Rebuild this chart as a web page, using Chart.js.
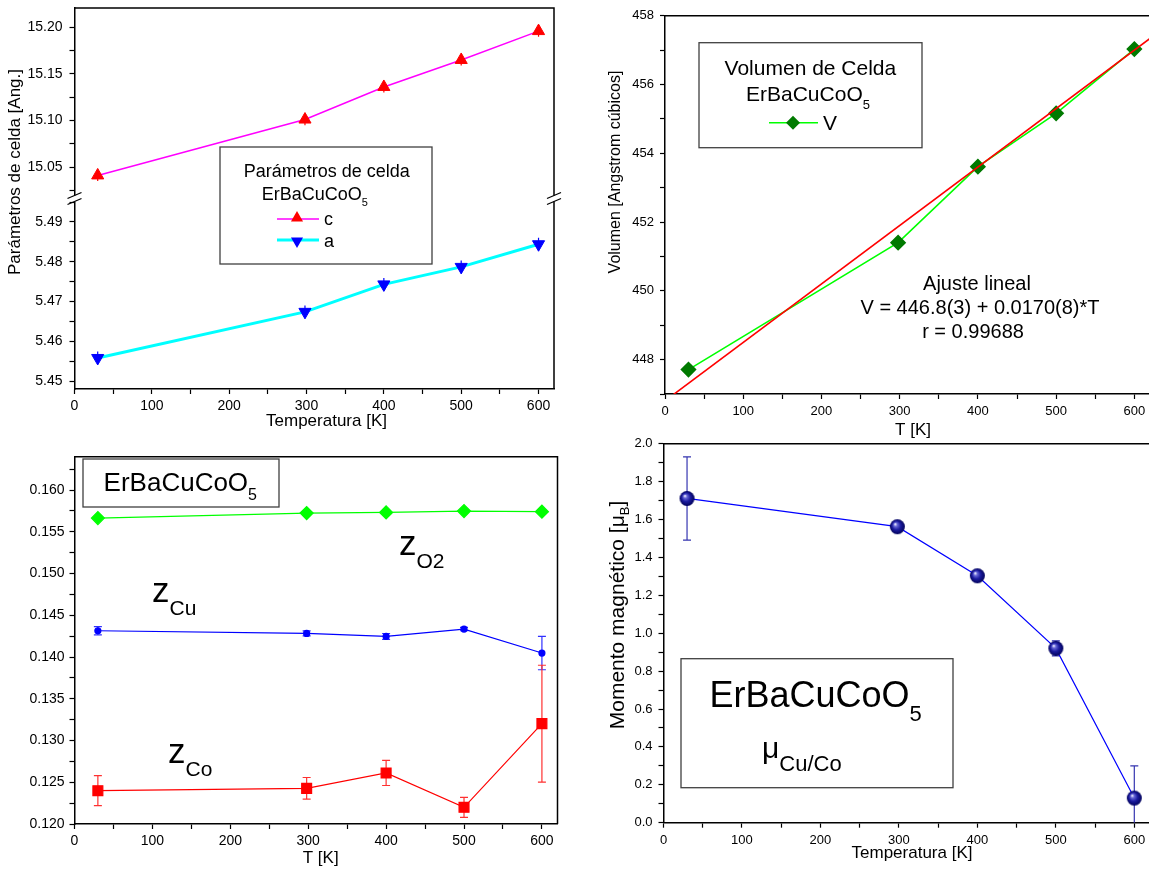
<!DOCTYPE html>
<html><head><meta charset="utf-8">
<script src="https://cdn.jsdelivr.net/npm/chart.js@4.4.1/dist/chart.umd.min.js"></script>
<style>
html,body{margin:0;padding:0;background:#fff;overflow:hidden;width:1149px;height:870px;position:relative;}
canvas{position:absolute;left:0;top:0;}
</style></head><body>
<canvas id="tl" width="1160" height="870"></canvas>
<canvas id="tr" width="1160" height="870"></canvas>
<canvas id="bl" width="1160" height="870"></canvas>
<canvas id="br" width="1160" height="870"></canvas>
<script>
// ---------- data ----------
const temps = [30, 298, 400, 500, 600];
const cParam = [15.041, 15.101, 15.136, 15.165, 15.196];
const cErr = [0.006, 0.006, 0.006, 0.006, 0.006];
const aParam = [5.4558, 5.4674, 5.4743, 5.4787, 5.4844];
const aErr = [0.0016, 0.0016, 0.0016, 0.0016, 0.0016];
const volume = [447.71, 451.40, 453.61, 455.16, 457.03];
const fitT = [0, 620];
const fitV = [446.8, 457.34];
const zO2 = [0.15665, 0.15725, 0.15733, 0.15749, 0.15741];
const zCu = [0.14315, 0.14283, 0.14247, 0.14335, 0.14048];
const zCuErr = [0.0005, 0.0003, 0.00035, 0.0002, 0.002];
const zCo = [0.12399, 0.12427, 0.12611, 0.12200, 0.13202];
const zCoErr = [0.0018, 0.0013, 0.0015, 0.0012, 0.007];
const moment = [1.711, 1.562, 1.303, 0.920, 0.130];
const momentErr = [0.22, 0, 0, 0.04, 0.17];

const FAM = '"Liberation Sans", Arial, Helvetica, sans-serif';
Chart.defaults.font.family = FAM;
Chart.defaults.color = '#000';
Chart.defaults.animation = false;
Chart.defaults.plugins.legend.display = false;
Chart.defaults.plugins.tooltip.enabled = false;

const fnt = s => s + 'px ' + FAM;
const pts = arr => arr.map((v, i) => ({x: temps[i], y: v}));

function xAxis(size, pad) {
  return { type: 'linear', position: 'bottom', min: 0, max: 620,
    ticks: { stepSize: 50, autoSkip: false, includeBounds: false, maxRotation: 0, padding: pad,
      font: {size: size}, color: '#000',
      callback: v => (Math.round(v) % 100 === 0 ? String(Math.round(v)) : '') },
    grid: { drawOnChartArea: false, drawTicks: true, tickLength: 5, tickColor: '#000', tickWidth: 1.2 },
    border: { display: true, color: '#000', width: 1.5 },
    afterFit: s => { s.height = 30; s.paddingLeft = 0; s.paddingRight = 0; } };
}
function yAxis(min, max, step, every, dec, size, pad, extra) {
  const m = Math.round(every / step);
  return Object.assign({ type: 'linear', position: 'left', min: min, max: max,
    ticks: { stepSize: step, autoSkip: false, includeBounds: false, padding: pad,
      font: {size: size}, color: '#000',
      callback: v => (Math.round(v / step) % m === 0 ? v.toFixed(dec) : '') },
    grid: { drawOnChartArea: false, drawTicks: true, tickLength: 5, tickColor: '#000', tickWidth: 1.2 },
    border: { display: true, color: '#000', width: 1.5 },
    afterFit: s => { s.width = 55; s.paddingTop = 0; s.paddingBottom = 0; } }, extra || {});
}

// helpers for drawing text
function richWidth(ctx, segs) { let w = 0; for (const s of segs) { ctx.font = fnt(s.size); w += ctx.measureText(s.t).width; } return w; }
function drawRich(ctx, x, y, segs, align) {
  const w = richWidth(ctx, segs);
  let cx = align === 'center' ? x - w / 2 : (align === 'right' ? x - w : x);
  ctx.textAlign = 'left'; ctx.textBaseline = 'alphabetic'; ctx.fillStyle = '#000';
  for (const s of segs) { ctx.font = fnt(s.size); ctx.fillText(s.t, cx, y + (s.dy || 0)); cx += ctx.measureText(s.t).width; }
}
function drawRotated(ctx, cx, cy, segs, size) {
  ctx.save(); ctx.translate(cx, cy); ctx.rotate(-Math.PI / 2);
  drawRich(ctx, 0, size * 0.25, segs, 'center'); ctx.restore();
}
function box(ctx, x, y, w, h) { ctx.save(); ctx.strokeStyle = '#404040'; ctx.lineWidth = 1.3; ctx.strokeRect(x, y, w, h); ctx.restore(); }
function frame(chart) {
  const a = chart.chartArea, ctx = chart.ctx;
  ctx.save(); ctx.strokeStyle = '#000'; ctx.lineWidth = 1.5;
  ctx.beginPath(); ctx.moveTo(a.left, a.top); ctx.lineTo(a.right, a.top); ctx.lineTo(a.right, a.bottom); ctx.stroke();
  ctx.restore();
}
function brk(ctx, x, y) {
  ctx.save(); ctx.fillStyle = '#fff'; ctx.fillRect(x - 2, y - 3, 4, 6);
  ctx.strokeStyle = '#000'; ctx.lineWidth = 1.3;
  for (const dy of [-3, 3]) { ctx.beginPath(); ctx.moveTo(x - 7, y + dy + 3); ctx.lineTo(x + 7, y + dy - 3); ctx.stroke(); }
  ctx.restore();
}
function tri(ctx, x, y, r, down, color) {
  const s = down ? -1 : 1;
  ctx.save(); ctx.fillStyle = color; ctx.beginPath();
  ctx.moveTo(x, y - s * r); ctx.lineTo(x + r * 0.866, y + s * r * 0.5); ctx.lineTo(x - r * 0.866, y + s * r * 0.5);
  ctx.closePath(); ctx.fill(); ctx.restore();
}
function hline(ctx, x1, x2, y, color, w) { ctx.save(); ctx.strokeStyle = color; ctx.lineWidth = w; ctx.beginPath(); ctx.moveTo(x1, y); ctx.lineTo(x2, y); ctx.stroke(); ctx.restore(); }

const errorBars = {
  id: 'errorBars',
  beforeDatasetsDraw(chart) {
    const ctx = chart.ctx, a = chart.chartArea;
    ctx.save(); ctx.beginPath(); ctx.rect(a.left, a.top, a.right - a.left, a.bottom - a.top); ctx.clip();
    chart.data.datasets.forEach(ds => {
      if (!ds.errors) return;
      const xs = chart.scales.x, ys = chart.scales[ds.yAxisID || 'y'];
      ctx.strokeStyle = ds.errColor; ctx.lineWidth = 1.2;
      ds.data.forEach((p, i) => {
        const e = ds.errors[i]; if (!e) return;
        const px = xs.getPixelForValue(p.x), y1 = ys.getPixelForValue(p.y + e), y2 = ys.getPixelForValue(p.y - e);
        ctx.beginPath(); ctx.moveTo(px, y1); ctx.lineTo(px, y2);
        if (ds.cap) { ctx.moveTo(px - ds.cap, y1); ctx.lineTo(px + ds.cap, y1); ctx.moveTo(px - ds.cap, y2); ctx.lineTo(px + ds.cap, y2); }
        ctx.stroke();
      });
    });
    ctx.restore();
  }
};

// ---------- Top-left: cell parameters ----------
new Chart(document.getElementById('tl'), {
  type: 'line',
  data: { datasets: [
    { label: 'c', data: pts(cParam), yAxisID: 'yc', borderColor: '#FF00FF', borderWidth: 1.5,
      pointStyle: 'triangle', pointRadius: 7, pointBackgroundColor: '#FF0000', pointBorderColor: '#FF0000', pointBorderWidth: 1,
      errors: cErr, errColor: '#FF0000', cap: 0 },
    { label: 'a', data: pts(aParam), yAxisID: 'ya', borderColor: '#00FFFF', borderWidth: 3,
      pointStyle: 'triangle', rotation: 180, pointRadius: 7, pointBackgroundColor: '#0000FF', pointBorderColor: '#0000FF', pointBorderWidth: 1,
      errors: aErr, errColor: '#0000FF', cap: 0 }
  ]},
  options: {
    responsive: false,
    layout: { padding: { left: 19.5, right: 606, top: 7.3, bottom: 451 } },
    scales: {
      x: xAxis(14, 4),
      ya: yAxis(5.448, 5.4959, 0.005, 0.01, 2, 14, 7, { stack: 'p', stackWeight: 1 }),
      yc: yAxis(15.0162, 15.2208, 0.025, 0.05, 2, 14, 7, { stack: 'p', stackWeight: 1 })
    }
  },
  plugins: [errorBars, { id: 'tlx', afterDraw(chart) {
    const ctx = chart.ctx, a = chart.chartArea;
    frame(chart);
    const yb = chart.scales.yc.bottom;
    brk(ctx, a.left, yb); brk(ctx, a.right, yb);
    drawRotated(ctx, 16, 172, [{t: 'Parámetros de celda [Ang.]', size: 17}], 17);
    drawRich(ctx, 326.5, 426, [{t: 'Temperatura [K]', size: 17}], 'center');
    box(ctx, 220, 147, 212, 117);
    drawRich(ctx, 326.7, 176.5, [{t: 'Parámetros de celda', size: 18}], 'center');
    drawRich(ctx, 261.7, 200, [{t: 'ErBaCuCoO', size: 18}, {t: '5', size: 11, dy: 6}], 'left');
    hline(ctx, 277, 319, 219, '#FF00FF', 1.5); tri(ctx, 297, 218, 7, false, '#FF0000');
    drawRich(ctx, 324, 225, [{t: 'c', size: 18}], 'left');
    hline(ctx, 277, 319, 240, '#00FFFF', 3); tri(ctx, 297, 241, 7, true, '#0000FF');
    drawRich(ctx, 324, 247, [{t: 'a', size: 18}], 'left');
  }}]
});

// ---------- Top-right: cell volume ----------
new Chart(document.getElementById('tr'), {
  type: 'line',
  data: { datasets: [
    { label: 'fit', data: fitT.map((t, i) => ({x: t, y: fitV[i]})), borderColor: '#FF0000', borderWidth: 1.6, pointRadius: 0 },
    { label: 'V', data: pts(volume), borderColor: '#00FF00', borderWidth: 1.6,
      pointStyle: 'rectRot', pointRadius: 7, pointBackgroundColor: '#007A00', pointBorderColor: '#007A00' }
  ]},
  options: {
    responsive: false,
    layout: { padding: { left: 610, right: 10, top: 15.7, bottom: 446 } },
    scales: { x: xAxis(13, 5), y: yAxis(447, 458, 1, 2, 0, 13, 6) }
  },
  plugins: [{ id: 'trx', afterDraw(chart) {
    const ctx = chart.ctx;
    frame(chart);
    drawRotated(ctx, 616, 172, [{t: 'Volumen [Angstrom cúbicos]', size: 16}], 16);
    drawRich(ctx, 913, 435, [{t: 'T [K]', size: 17}], 'center');
    box(ctx, 699, 42.7, 223, 105);
    drawRich(ctx, 810.4, 75, [{t: 'Volumen de Celda', size: 21}], 'center');
    drawRich(ctx, 746, 101, [{t: 'ErBaCuCoO', size: 21}, {t: '5', size: 13, dy: 8}], 'left');
    hline(ctx, 769, 818, 122.7, '#00FF00', 1.6);
    ctx.save(); ctx.fillStyle = '#007A00'; ctx.beginPath(); ctx.moveTo(786, 122.7); ctx.lineTo(793, 115.7); ctx.lineTo(800, 122.7); ctx.lineTo(793, 129.7); ctx.closePath(); ctx.fill(); ctx.restore();
    drawRich(ctx, 823, 130, [{t: 'V', size: 21}], 'left');
    drawRich(ctx, 977, 290, [{t: 'Ajuste lineal', size: 20}], 'center');
    drawRich(ctx, 980, 314, [{t: 'V = 446.8(3) + 0.0170(8)*T', size: 20}], 'center');
    drawRich(ctx, 973, 338, [{t: 'r = 0.99688', size: 20}], 'center');
  }}]
});

// ---------- Bottom-left: z coordinates ----------
new Chart(document.getElementById('bl'), {
  type: 'line',
  data: { datasets: [
    { label: 'zO2', data: pts(zO2), borderColor: '#00FF00', borderWidth: 1.2,
      pointStyle: 'rectRot', pointRadius: 6.5, pointBackgroundColor: '#00FF00', pointBorderColor: '#00FF00' },
    { label: 'zCu', data: pts(zCu), borderColor: '#0000FF', borderWidth: 1.2,
      pointStyle: 'circle', pointRadius: 3, pointBackgroundColor: '#0000FF', pointBorderColor: '#0000FF',
      errors: zCuErr, errColor: '#3030FF', cap: 4 },
    { label: 'zCo', data: pts(zCo), borderColor: '#FF0000', borderWidth: 1.2,
      pointStyle: 'rect', pointRadius: 7, pointBackgroundColor: '#FF0000', pointBorderColor: '#FF0000',
      errors: zCoErr, errColor: '#FF3030', cap: 4 }
  ]},
  options: {
    responsive: false,
    layout: { padding: { left: 19.5, right: 602.5, top: 456.7, bottom: 16 } },
    scales: { x: xAxis(14, 4), y: yAxis(0.120, 0.164, 0.0025, 0.005, 3, 14, 5) }
  },
  plugins: [errorBars, { id: 'blx', afterDraw(chart) {
    const ctx = chart.ctx;
    frame(chart);
    drawRich(ctx, 320.7, 863, [{t: 'T [K]', size: 17}], 'center');
    box(ctx, 83, 459, 196, 48);
    drawRich(ctx, 103.6, 491, [{t: 'ErBaCuCoO', size: 26}, {t: '5', size: 16, dy: 9}], 'left');
    drawRich(ctx, 399, 555, [{t: 'z', size: 35}, {t: 'O2', size: 21, dy: 13}], 'left');
    drawRich(ctx, 152, 601.7, [{t: 'z', size: 35}, {t: 'Cu', size: 21, dy: 13}], 'left');
    drawRich(ctx, 168, 763, [{t: 'z', size: 35}, {t: 'Co', size: 21, dy: 13}], 'left');
  }}]
});

// ---------- Bottom-right: magnetic moment ----------
function sphere(r) {
  const c = document.createElement('canvas'); c.width = c.height = 2 * r + 2;
  const g = c.getContext('2d'); const cx = r + 1, cy = r + 1;
  const grad = g.createRadialGradient(cx - r * 0.3, cy - r * 0.35, r * 0.05, cx, cy, r);
  grad.addColorStop(0, '#f0f0ff'); grad.addColorStop(0.2, '#6a6ad8'); grad.addColorStop(0.55, '#1c1ca0'); grad.addColorStop(1, '#00005a');
  g.fillStyle = grad; g.beginPath(); g.arc(cx, cy, r, 0, 2 * Math.PI); g.fill();
  return c;
}
new Chart(document.getElementById('br'), {
  type: 'line',
  data: { datasets: [
    { label: 'mu', data: pts(moment), borderColor: '#0000FF', borderWidth: 1.2,
      pointStyle: sphere(7.5), pointRadius: 7.5,
      errors: momentErr, errColor: '#3535B0', cap: 4 }
  ]},
  options: {
    responsive: false,
    layout: { padding: { left: 608.5, right: 10, top: 443.7, bottom: 17.3 } },
    scales: { x: xAxis(13, 5), y: yAxis(0, 2, 0.1, 0.2, 1, 13, 6) }
  },
  plugins: [errorBars, { id: 'brx', afterDraw(chart) {
    const ctx = chart.ctx;
    frame(chart);
    drawRotated(ctx, 619, 615, [{t: 'Momento magnético [μ', size: 21}, {t: 'B', size: 13, dy: 5}, {t: ']', size: 21}], 21);
    drawRich(ctx, 912, 858, [{t: 'Temperatura [K]', size: 17}], 'center');
    box(ctx, 681, 658.7, 272, 129);
    drawRich(ctx, 709.5, 707.3, [{t: 'ErBaCuCoO', size: 36}, {t: '5', size: 22, dy: 14}], 'left');
    drawRich(ctx, 762, 757.5, [{t: 'μ', size: 30}, {t: 'Cu/Co', size: 22, dy: 13}], 'left');
  }}]
});
</script>
</body></html>
